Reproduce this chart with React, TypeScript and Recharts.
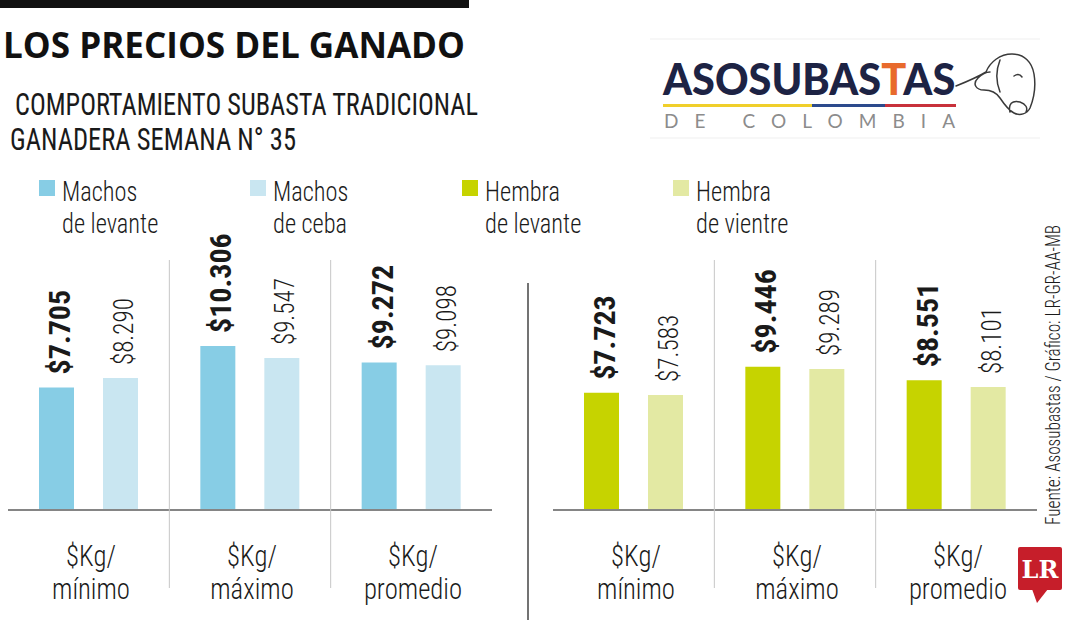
import React, { useLayoutEffect, useRef, useState } from 'react';
import { BarChart, Bar, XAxis, YAxis, LabelList } from 'recharts';

const categories = ['mínimo', 'máximo', 'promedio'];
const machosLevante = [7705, 10306, 9272];
const machosCeba = [8290, 9547, 9098];
const hembraLevante = [7723, 9446, 8551];
const hembraVientre = [7583, 9289, 8101];

const legendItems = [
  { first: 'Machos', second: 'de levante', color: '#87CDE5' },
  { first: 'Machos', second: 'de ceba', color: '#C9E6F1' },
  { first: 'Hembra', second: 'de levante', color: '#C6D300' },
  { first: 'Hembra', second: 'de vientre', color: '#E3E9A3' },
];

const COND = '"Roboto Condensed", "DejaVu Sans Condensed", sans-serif';
const INK = '#1a1a1a';

const CHART_W = 484;
const CHART_H = 420;
const CHART_TOP = 200;

const fmt = (v: number) => '$' + String(v).replace(/\B(?=(\d{3})+(?!\d))/g, '.');

function valueLabel(props: any, bold: boolean) {
  const { x, y, width, value } = props;
  const fs = bold ? 30 : 27;
  const sx = bold ? 1 : 0.93;
  const cx = Number(x) + Number(width) / 2 + 3 + (fs * 0.711) / 2;
  const ty = Number(y) - 13;
  return (
    <text
      transform={`translate(${cx},${ty}) rotate(-90) scale(${sx},1)`}
      fontFamily={COND}
      fontWeight={bold ? 700 : 300}
      fontSize={fs}
      fill={INK}
    >
      {fmt(Number(value))}
    </text>
  );
}

function CategoryTick(props: any) {
  const { x, y, payload, index, band } = props;
  return (
    <g>
      {index > 0 && (
        <line x1={x - band / 2} x2={x - band / 2} y1={y - 250} y2={y + 78} stroke="#c6c6c6" strokeWidth={1} />
      )}
      {/* two-line label: baselines near y+56 and y+88 */}
      <foreignObject x={x + 2 - 80} y={y + 30} width={160} height={72}>
        <div
          style={{
            textAlign: 'center',
            fontFamily: COND,
            fontWeight: 300,
            fontSize: 29,
            lineHeight: '33px',
            color: INK,
            transform: 'scaleX(0.92)',
            transformOrigin: 'center top',
          }}
        >
          $Kg/
          <br />
          {payload.value}
        </div>
      </foreignObject>
    </g>
  );
}

function PriceChart({ a, b, colors, left, yMax }: { a: number[]; b: number[]; colors: string[]; left: number; yMax: number }) {
  const data = categories.map((cat, i) => ({ cat, a: a[i], b: b[i] }));
  const band = CHART_W / categories.length;
  return (
    <div style={{ position: 'absolute', left, top: CHART_TOP }}>
      <BarChart
        width={CHART_W}
        height={CHART_H}
        data={data}
        margin={{ top: 49, right: 0, left: 0, bottom: 10 }}
        barGap={29}
        barSize={35}
      >
        <YAxis hide domain={[0, yMax]} />
        <XAxis
          dataKey="cat"
          interval={0}
          height={100}
          tickLine={false}
          tickSize={0}
          tickMargin={0}
          axisLine={{ stroke: '#858585', strokeWidth: 2 }}
          tick={(p: any) => <CategoryTick {...p} band={band} />}
        />
        <Bar dataKey="a" fill={colors[0]} isAnimationActive={false}>
          <LabelList dataKey="a" content={(p: any) => valueLabel(p, true)} />
        </Bar>
        <Bar dataKey="b" fill={colors[1]} isAnimationActive={false}>
          <LabelList dataKey="b" content={(p: any) => valueLabel(p, false)} />
        </Bar>
      </BarChart>
    </div>
  );
}

function Legend() {
  const xs = [39, 250, 462, 673];
  return (
    <>
      {legendItems.map((it, i) => (
        <div key={i} style={{ position: 'absolute', left: xs[i], top: 176 }}>
          <div style={{ position: 'absolute', left: 0, top: 4, width: 16, height: 16, background: it.color }} />
          <div
            style={{
              position: 'absolute',
              left: 23,
              top: 0,
              whiteSpace: 'nowrap',
              fontFamily: COND,
              fontWeight: 300,
              fontSize: 28,
              lineHeight: '32px',
              color: INK,
              transform: 'scaleX(0.87)',
              transformOrigin: 'left top',
            }}
          >
            {it.first}
            <br />
            {it.second}
          </div>
        </div>
      ))}
    </>
  );
}

// the logo word is squeezed to the width it has in the picture
function LogoWord() {
  const ref = useRef<HTMLDivElement | null>(null);
  const [sx, setSx] = useState(1);
  useLayoutEffect(() => {
    const w = ref.current?.offsetWidth;
    if (w) setSx(292 / w);
  }, []);
  return (
    <div
      ref={ref}
      style={{
        position: 'absolute',
        left: 663,
        top: 56,
        whiteSpace: 'nowrap',
        fontFamily: 'Lato, sans-serif',
        fontWeight: 900,
        fontSize: 44,
        lineHeight: '44px',
        color: '#1d2344',
        transform: `scaleX(${sx})`,
        transformOrigin: 'left top',
      }}
    >
      ASOSUBAS<span style={{ color: '#E86A2C' }}>T</span>AS
    </div>
  );
}

function Backdrop() {
  return (
    <svg width={1080} height={620} style={{ position: 'absolute', left: 0, top: 0 }}>
      <rect x={0} y={0} width={469} height={8} fill="#111" />
      <text x={3} y={58} fontFamily='"Open Sans", sans-serif' fontWeight={700} fontSize={35} fill="#111" textLength={462} lengthAdjust="spacingAndGlyphs">
        LOS PRECIOS DEL GANADO
      </text>
      <text x={15} y={115} fontFamily={COND} fontWeight={400} fontSize={31} fill={INK} textLength={463} lengthAdjust="spacingAndGlyphs">
        COMPORTAMIENTO SUBASTA TRADICIONAL
      </text>
      <text x={10} y={150} fontFamily={COND} fontWeight={400} fontSize={31} fill={INK} textLength={286} lengthAdjust="spacingAndGlyphs">
        GANADERA SEMANA N° 35
      </text>

      {/* logo */}
      <line x1={650} x2={1040} y1={39} y2={39} stroke="#efefef" />
      <line x1={650} x2={1040} y1={138} y2={138} stroke="#efefef" />
      <rect x={663} y={104} width={149} height={3} fill="#F0CF2A" />
      <rect x={812} y={104} width={73} height={3} fill="#2C4A8C" />
      <rect x={885} y={104} width={71} height={3} fill="#C8313B" />
      <text x={664} y={128} fontFamily="Lato, sans-serif" fontWeight={400} fontSize={19} fill="#8c8c8c" textLength={291} lengthAdjust="spacing">
        DE COLOMBIA
      </text>
      <path
        d="M956 86 C966 82 976 78 986 72 M986 72 C990 62 1000 54 1012 54 C1024 54 1032 62 1034 74 C1036 86 1034 98 1030 108 C1027 114 1020 116 1014 113 C1008 110 1004 104 1000 98 C996 92 990 90 984 90 C976 90 972 84 978 78 C982 74 986 72 990 72 M1010 112 C1008 104 1012 100 1020 102 C1026 104 1028 108 1026 112 M1014 76 C1017 74 1020 74 1022 77 M1000 60 C996 70 996 82 1000 92"
        fill="none"
        stroke="#3a3a3a"
        strokeWidth={1.5}
        strokeLinecap="round"
      />

      <line x1={528} x2={528} y1={283} y2={620} stroke="#444" strokeWidth={1.5} />

      <text
        transform="translate(1060,525) rotate(-90)"
        fontFamily={COND}
        fontWeight={300}
        fontSize={21}
        fill={INK}
        textLength={300}
        lengthAdjust="spacingAndGlyphs"
      >
        Fuente: Asosubastas / Gráfico: LR-GR-AA-MB
      </text>

      <rect x={1018} y={547} width={44} height={43} rx={2} fill="#C61E2A" />
      <polygon points="1032,589 1048,589 1037,603" fill="#C61E2A" />
      <text x={1040} y={578} textAnchor="middle" fontFamily='"DejaVu Serif", serif' fontWeight={700} fontSize={24} fill="#fff">
        LR
      </text>
    </svg>
  );
}

export default function App() {
  return (
    <div style={{ position: 'absolute', left: 0, top: 0, width: 1080, height: 620, background: '#fff', overflow: 'hidden' }}>
      <Backdrop />
      <LogoWord />
      <Legend />
      <PriceChart a={machosLevante} b={machosCeba} colors={['#87CDE5', '#C9E6F1']} left={8} yMax={16400} />
      <PriceChart a={hembraLevante} b={hembraVientre} colors={['#C6D300', '#E3E9A3']} left={553} yMax={17200} />
    </div>
  );
}
